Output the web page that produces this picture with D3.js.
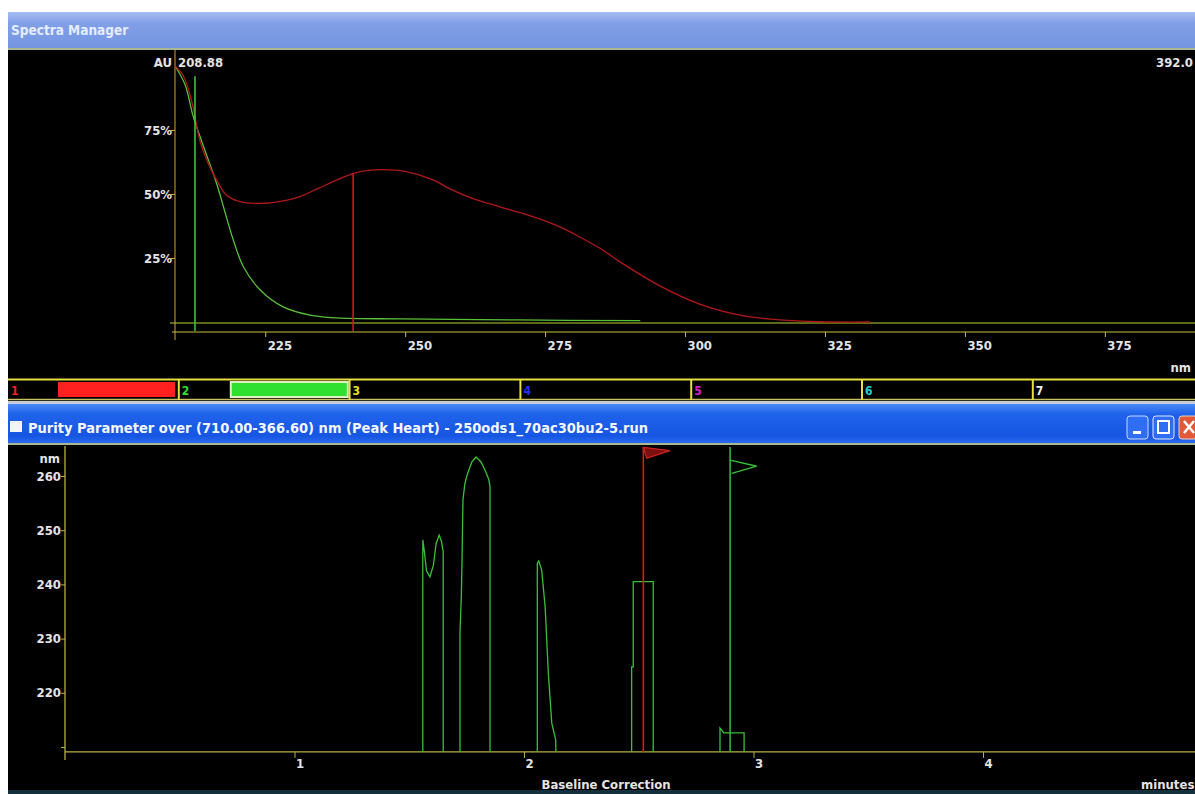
<!DOCTYPE html>
<meta charset="utf-8">
<head>
  <script src="https://cdn.jsdelivr.net/npm/d3@7"></script>
  <style>
    body { margin: 0; background: #fff; }
    svg text { font-family: "Liberation Sans Narrow", "DejaVu Sans Condensed", "Arial Narrow", sans-serif; font-weight: bold; }
    .lbl { fill: #e4e4e4; font-size: 13px; }
  </style>
</head>
<body>
<script>

// ---- espectros (nm, % AU) ----
var specRed = [[208.88,100],[210.4,96],[212,85],[213.3,71],[214.8,62],[216.3,55.5],[218.1,49.5],[220.5,47],[224.1,46.3],
  [228,47.2],[231.2,49],[234.5,52.2],[237.8,55.5],[240.7,58],[243.5,59.2],[246,59.5],[250,58.8],[255,55.5],[258,52],
  [262,48.3],[266.9,45],[271,42.4],[275.8,38.8],[278.5,36.3],[281.2,33.2],[284.8,28.8],[288.3,23.6],[295.5,14.1],[302.6,7.0],[309.8,2.7],
  [317,0.8],[324,0.1],[333,0]];
var specGreen = [[208.88,100],[210.7,92.6],[212.15,80.2],[214.2,67.2],[216.3,54.2],[219.3,32],[221.1,21.6],[224.1,12.5],
  [228.2,5.9],[233,2.7],[237.8,1.6],[249.1,1.2],[270,0.8],[292,0.5]];
var markRedNm = 240.7, markRedPct = 58;
var markGreenNm = 212.45, markGreenPct = 96;
var nmTicks = [225,250,275,300,325,350,375];
var pctTicks = [25,50,75];

// ---- leyenda ----
var legendLabels = ["1","2","3","4","5","6","7"];
var legendColors = ["#ff2020","#30e030","#e8e020","#2030ff","#d020d0","#20d0d0","#f0f0f0"];

// ---- pureza (minutos, nm) ----
var baseNm = 209.1;
var purity1 = [[1.559,baseNm],[1.559,248.2],[1.566,246],[1.575,242.5],[1.59,241.4],[1.605,243.5],[1.617,247.5],[1.63,249.1],[1.64,248],[1.648,246],[1.648,baseNm]];
var purity2 = [[1.721,baseNm],[1.721,231],[1.727,238],[1.73,244.5],[1.734,255.6],[1.742,258.5],[1.752,260.2],[1.773,262.6],[1.791,263.5],[1.813,262.6],[1.834,260.7],[1.847,259.3],[1.852,258],[1.852,baseNm]];
var purity3 = [[2.058,baseNm],[2.058,243.9],[2.064,244.3],[2.077,242.7],[2.092,235.9],[2.106,223.7],[2.121,214.4],[2.138,211.3],[2.139,baseNm]];
var purity4 = [[2.469,baseNm],[2.469,224.8],[2.476,224.8],[2.476,240.5],[2.563,240.5],[2.563,baseNm]];
var purity5 = [[2.854,baseNm],[2.854,213.5],[2.871,212.6],[2.959,212.6],[2.959,baseNm]];
var peakRedMin = 2.52, peakGreenMin = 2.898;
var flagRed = [[2.52,265.3],[2.636,264.7],[2.535,263.3]];
var flagGreen = [[2.898,262.95],[3.014,261.8],[2.905,260.5]];
var minTicks = [1,2,3,4];
var purTicks = [210,220,230,240,250,260];

var W = 1195, H = 794;
var svg = d3.select("body").append("svg").attr("width", W).attr("height", H);
var defs = svg.append("defs");

function grad(id, stops) {
  var g = defs.append("linearGradient").attr("id", id).attr("x1",0).attr("x2",0).attr("y1",0).attr("y2",1);
  stops.forEach(function(s){ g.append("stop").attr("offset", s[0]).attr("stop-color", s[1]); });
}
grad("barTop", [[0,"#a6bdf2"],[0.3,"#819fe6"],[1,"#7595e2"]]);
grad("barBot", [[0,"#4a8af8"],[0.25,"#1f62ea"],[0.8,"#1656e2"],[1,"#2a6cf0"]]);

// fondo
svg.append("rect").attr("width", W).attr("height", H).attr("fill", "#fff");

// ---------- ventana superior ----------
svg.append("rect").attr("x",8).attr("y",12).attr("width",W-8).attr("height",37).attr("fill","url(#barTop)");
svg.append("text").attr("x",11).attr("y",35).attr("fill","#e6ecff").attr("font-size",13.5).text("Spectra Manager");
svg.append("rect").attr("x",8).attr("y",48).attr("width",W-8).attr("height",2).attr("fill","#a8b890");
svg.append("rect").attr("x",8).attr("y",50).attr("width",W-8).attr("height",328).attr("fill","#000");

var x1 = d3.scaleLinear().domain([208.88, 392]).range([175, 1200]);
var y1 = d3.scaleLinear().domain([0, 100]).range([322, 66]);

// linea base y ejes
svg.append("line").attr("x1",170).attr("x2",W).attr("y1",y1(0)+1).attr("y2",y1(0)+1).attr("stroke","#5a6a18").attr("stroke-width",2);
svg.append("line").attr("x1",172).attr("x2",W).attr("y1",332).attr("y2",332).attr("stroke","#c8c040");
svg.append("line").attr("x1",175).attr("x2",175).attr("y1",50).attr("y2",340).attr("stroke","#d8a030");

var gx1 = svg.append("g").attr("class","lbl").attr("transform","translate(0,332)")
  .call(d3.axisBottom(x1).tickValues(nmTicks).tickSize(5).tickSizeOuter(0));
gx1.select(".domain").remove();
gx1.selectAll("line").attr("stroke","#c8c040");
gx1.selectAll("text").attr("text-anchor","start").attr("x",2).attr("y",9).attr("fill","#e4e4e4").attr("font-size",13);

var gy1 = svg.append("g").attr("class","lbl").attr("transform","translate(175,0)")
  .call(d3.axisLeft(y1).tickValues(pctTicks).tickSize(4).tickFormat(function(d){return d+"%";}));
gy1.select(".domain").remove();
gy1.selectAll("line").attr("stroke","#d8a030");
gy1.selectAll("text").attr("fill","#e4e4e4").attr("font-size",13).attr("x",-3);

svg.append("text").attr("class","lbl").attr("x",172).attr("y",67).attr("text-anchor","end").text("AU");
svg.append("text").attr("class","lbl").attr("x",178).attr("y",67).text("208.88");
svg.append("text").attr("class","lbl").attr("x",1156).attr("y",67).text("392.0");
svg.append("text").attr("class","lbl").attr("x",1191).attr("y",372).attr("text-anchor","end").attr("font-size",11).text("nm");

var line1 = d3.line().x(function(d){return x1(d[0]);}).y(function(d){return y1(d[1]);}).curve(d3.curveCatmullRom.alpha(0.5));
svg.append("path").datum(specGreen).attr("d", line1).attr("fill","none").attr("stroke","#58c038").attr("stroke-width",1.3);
svg.append("path").datum(specRed).attr("d", line1).attr("fill","none").attr("stroke","#b01818").attr("stroke-width",1.3);

svg.append("line").attr("x1",x1(markGreenNm)).attr("x2",x1(markGreenNm)).attr("y1",y1(markGreenPct)).attr("y2",331)
  .attr("stroke","#40d040").attr("stroke-width",1.5);
svg.append("line").attr("x1",x1(markRedNm)).attr("x2",x1(markRedNm)).attr("y1",y1(markRedPct)).attr("y2",331)
  .attr("stroke","#d02020").attr("stroke-width",1.5);

// ---------- leyenda ----------
var xl = d3.scaleLinear().domain([0, 7]).range([8, 8 + 7*170.8]);
svg.append("rect").attr("x",8).attr("y",378).attr("width",W-8).attr("height",23).attr("fill","#000");
svg.append("line").attr("x1",8).attr("x2",W).attr("y1",379.5).attr("y2",379.5).attr("stroke","#e8e040").attr("stroke-width",2);
svg.append("line").attr("x1",8).attr("x2",W).attr("y1",399.5).attr("y2",399.5).attr("stroke","#c8c060").attr("stroke-width",1.5);
var cell = svg.selectAll("g.cell").data(legendLabels).enter().append("g").attr("class","cell");
cell.filter(function(d,i){return i>0;}).append("line")
  .attr("x1",function(d,i){return xl(i+1);}).attr("x2",function(d,i){return xl(i+1);})
  .attr("y1",379).attr("y2",400).attr("stroke","#e8e040").attr("stroke-width",2);
cell.append("text").attr("x",function(d,i){return xl(i)+3;}).attr("y",395).attr("font-size",12)
  .attr("fill",function(d,i){return legendColors[i];}).text(function(d){return d;});
cell.filter(function(d,i){return i<2;}).append("rect")
  .attr("x",function(d,i){return xl(i)+(i===0?50:52);}).attr("y",382).attr("width",117).attr("height",15)
  .attr("fill",function(d,i){return legendColors[i];})
  .attr("stroke",function(d,i){return i===1?"#e0f0c0":"none";}).attr("stroke-width",2);
svg.append("rect").attr("x",8).attr("y",401).attr("width",W-8).attr("height",3).attr("fill","#c4ccd8");

// ---------- ventana inferior ----------
svg.append("rect").attr("x",8).attr("y",404).attr("width",W-8).attr("height",40).attr("fill","url(#barBot)");
svg.append("rect").attr("x",10).attr("y",421).attr("width",12).attr("height",11).attr("fill","#f4f4f4");
svg.append("text").attr("x",28).attr("y",433).attr("fill","#f4f6ff").attr("font-size",14.5)
  .text("Purity Parameter over (710.00-366.60) nm (Peak Heart) - 250ods1_70ac30bu2-5.run");
// botones
svg.append("rect").attr("x",1127).attr("y",416).attr("width",21).attr("height",23).attr("rx",3).attr("fill","#2f6ef2").attr("stroke","#c8d8ff");
svg.append("rect").attr("x",1133).attr("y",431).attr("width",8).attr("height",3).attr("fill","#fff");
svg.append("rect").attr("x",1153).attr("y",416).attr("width",21).attr("height",23).attr("rx",3).attr("fill","#2f6ef2").attr("stroke","#e0e8ff");
svg.append("rect").attr("x",1158).attr("y",421).attr("width",11).attr("height",12).attr("fill","none").attr("stroke","#fff").attr("stroke-width",2);
svg.append("rect").attr("x",1179).attr("y",416).attr("width",22).attr("height",23).attr("rx",3).attr("fill","#e2583a").attr("stroke","#f0d0c0");
svg.append("path").attr("d","M1184,421 L1194,433 M1194,421 L1184,433").attr("stroke","#fff").attr("stroke-width",2.5);
svg.append("rect").attr("x",8).attr("y",443).attr("width",W-8).attr("height",2).attr("fill","#a8b890");
svg.append("rect").attr("x",8).attr("y",445).attr("width",W-8).attr("height",345).attr("fill","#000");
svg.append("rect").attr("x",8).attr("y",790).attr("width",W-8).attr("height",4).attr("fill","#13303c");

var x2 = d3.scaleLinear().domain([0, 5]).range([65, 65 + 5*229.5]);
var y2 = d3.scaleLinear().domain([210, 260]).range([747, 476]);

svg.append("line").attr("x1",65).attr("x2",W).attr("y1",y2(baseNm)).attr("y2",y2(baseNm)).attr("stroke","#b8b040").attr("stroke-width",1.3);
svg.append("line").attr("x1",65).attr("x2",65).attr("y1",446).attr("y2",760).attr("stroke","#b8b040").attr("stroke-width",1.3);

var gx2 = svg.append("g").attr("class","lbl").attr("transform","translate(0,"+y2(baseNm)+")")
  .call(d3.axisBottom(x2).tickValues(minTicks).tickSize(6).tickSizeOuter(0).tickFormat(d3.format("d")));
gx2.select(".domain").remove();
gx2.selectAll("line").attr("stroke","#b8b040");
gx2.selectAll("text").attr("text-anchor","start").attr("x",1).attr("y",7).attr("fill","#e4e4e4").attr("font-size",13);

var gy2 = svg.append("g").attr("class","lbl").attr("transform","translate(65,0)")
  .call(d3.axisLeft(y2).tickValues(purTicks).tickSize(4).tickFormat(function(d){return d===210?"":d;}));
gy2.select(".domain").remove();
gy2.selectAll("line").attr("stroke","#b8b040");
gy2.selectAll("text").attr("fill","#e4e4e4").attr("font-size",13).attr("x",-4);

svg.append("text").attr("class","lbl").attr("x",60).attr("y",463).attr("text-anchor","end").attr("font-size",11).text("nm");
svg.append("text").attr("class","lbl").attr("x",606).attr("y",789).attr("text-anchor","middle").text("Baseline Correction");
svg.append("text").attr("class","lbl").attr("x",1141).attr("y",789).text("minutes");

var line2 = d3.line().x(function(d){return x2(d[0]);}).y(function(d){return y2(d[1]);});
var topNm = y2.invert(447);

[purity1, purity2, purity3, purity4, purity5].forEach(function(p){
  svg.append("path").datum(p).attr("d", line2).attr("fill","none").attr("stroke","#38c038").attr("stroke-width",1.3);
});
svg.append("line").attr("x1",x2(peakRedMin)).attr("x2",x2(peakRedMin)).attr("y1",y2(topNm)).attr("y2",y2(baseNm))
  .attr("stroke","#d02020").attr("stroke-width",1.6);
svg.append("path").datum(flagRed).attr("d", function(d){return line2(d)+"Z";}).attr("fill","#7a1010").attr("stroke","#d02020").attr("stroke-width",1.3);
svg.append("line").attr("x1",x2(peakGreenMin)).attr("x2",x2(peakGreenMin)).attr("y1",y2(topNm)).attr("y2",y2(baseNm))
  .attr("stroke","#38c038").attr("stroke-width",1.5);
svg.append("path").datum(flagGreen).attr("d", line2).attr("fill","none").attr("stroke","#38c038").attr("stroke-width",1.3);

</script>
</body>
